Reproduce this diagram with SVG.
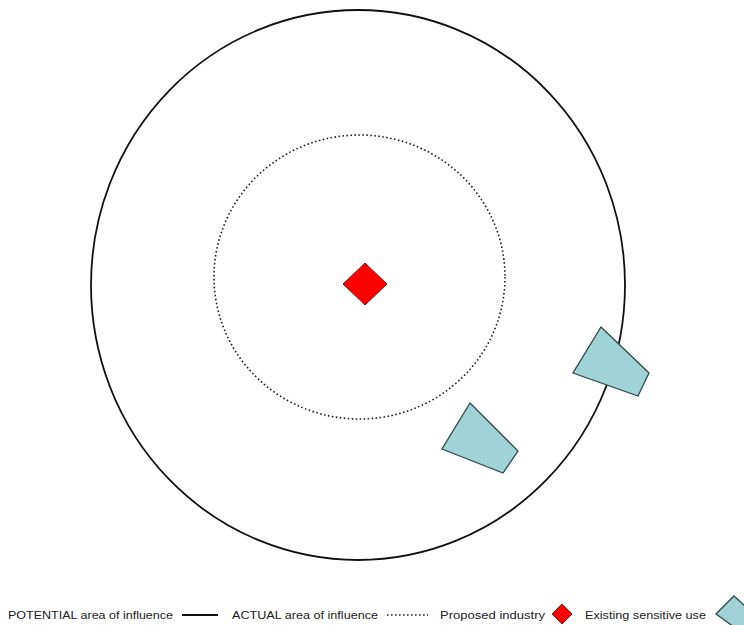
<svg xmlns="http://www.w3.org/2000/svg" width="744" height="625" viewBox="0 0 744 625">
<style>
.lbl{font-family:"Liberation Sans","Open Sans",sans-serif;font-size:11.5px;fill:#222}
.use{fill:#9fd3d6;stroke:#2e4a4a;stroke-width:1.3}
.ind{fill:#ff0000;stroke:#8b1a1a;stroke-width:1}
</style>
<rect width="744" height="625" fill="#fff"/>
<g id="areas">
<ellipse id="potential" cx="358" cy="285" rx="267" ry="275" fill="none" stroke="#111" stroke-width="1.8"/>
<ellipse id="actual" cx="359.5" cy="277" rx="145.5" ry="142" fill="none" stroke="#222" stroke-width="1.6" stroke-dasharray="1.6 2.4"/>
</g>
<g id="industry"><polygon class="ind" points="365,263 387,284 365,305 343,284"/></g>
<g id="use1"><polygon class="use" points="470,403 518,451 503,473 442,449"/></g>
<g id="use2"><polygon class="use" points="601,327 649,373 638,396 573,373"/></g>
<g id="legend">
<text class="lbl" x="8" y="619" textLength="165" lengthAdjust="spacingAndGlyphs">POTENTIAL  area of influence</text>
<line x1="182" y1="615" x2="218" y2="615" stroke="#111" stroke-width="1.8"/>
<text class="lbl" x="232" y="619" textLength="146" lengthAdjust="spacingAndGlyphs">ACTUAL  area of influence</text>
<line x1="387" y1="615" x2="428" y2="615" stroke="#222" stroke-width="1.6" stroke-dasharray="1.6 2.4"/>
<text class="lbl" x="440" y="619" textLength="105" lengthAdjust="spacingAndGlyphs">Proposed industry</text>
<polygon class="ind" points="562,604 572,614 562,624 552,614"/>
<text class="lbl" x="585" y="619" textLength="121" lengthAdjust="spacingAndGlyphs">Existing sensitive use</text>
<polygon class="use" points="734,596 760,620 752,640 716,614"/>
</g>
</svg>
